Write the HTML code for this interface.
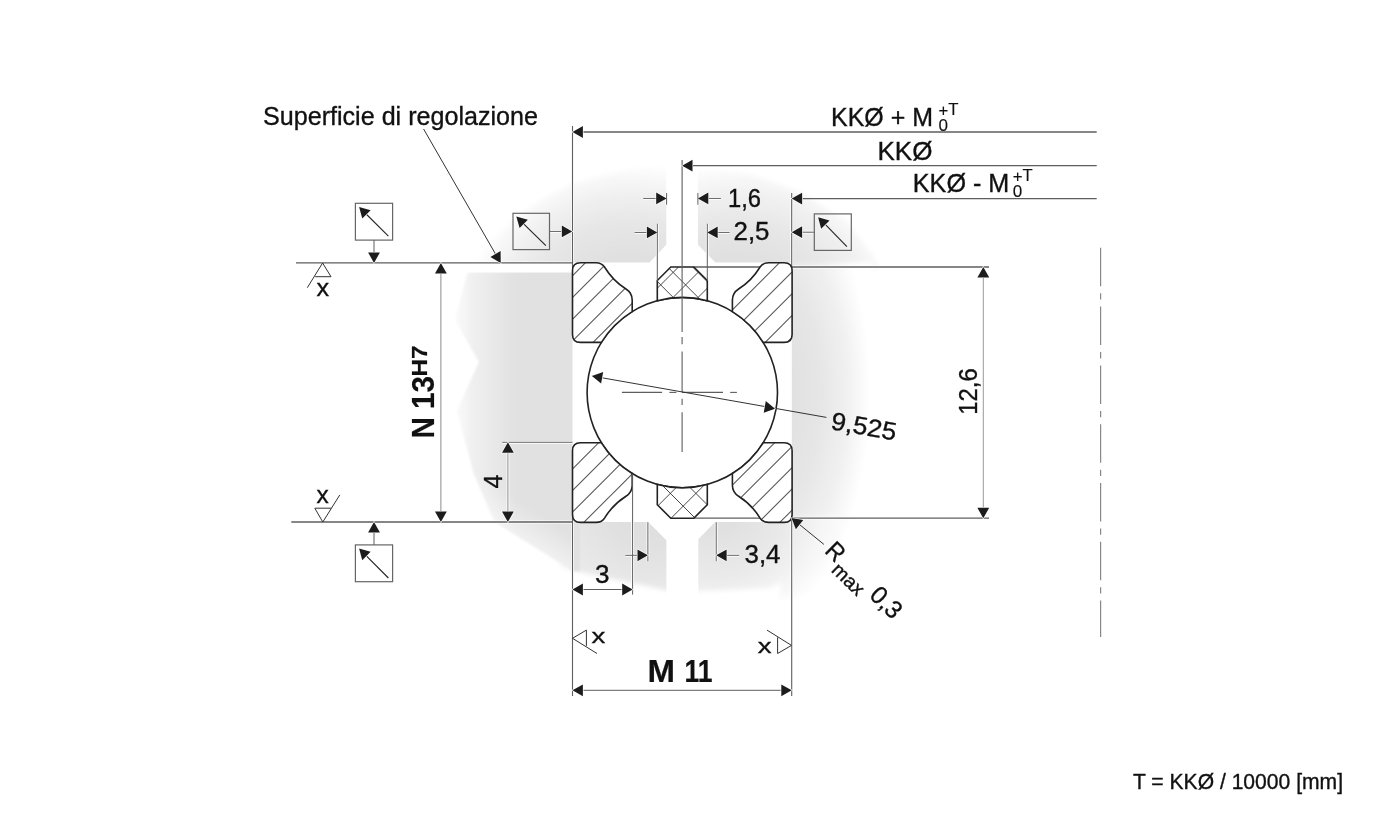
<!DOCTYPE html>
<html><head><meta charset="utf-8"><style>html,body{margin:0;padding:0;background:#fff;width:1390px;height:827px;overflow:hidden}svg{display:block;will-change:transform}</style></head>
<body><svg width="1390" height="827" viewBox="0 0 1390 827">
<rect width="1390" height="827" fill="#fff"/>
<defs>
<linearGradient id="gA" gradientUnits="userSpaceOnUse" x1="452" y1="0" x2="515" y2="0">
<stop offset="0" stop-color="#fdfdfd"/><stop offset="0.35" stop-color="#efefef"/><stop offset="1" stop-color="#e1e1e1"/></linearGradient>
<radialGradient id="gB" gradientUnits="userSpaceOnUse" cx="630" cy="335" r="172">
<stop offset="0" stop-color="#dedede"/><stop offset="0.45" stop-color="#e0e0e0"/><stop offset="0.65" stop-color="#e6e6e6"/><stop offset="0.8" stop-color="#efefef"/><stop offset="0.92" stop-color="#f8f8f8"/><stop offset="1" stop-color="#ffffff"/></radialGradient>
<radialGradient id="gC" gradientUnits="userSpaceOnUse" cx="735" cy="335" r="172">
<stop offset="0" stop-color="#dedede"/><stop offset="0.45" stop-color="#e0e0e0"/><stop offset="0.65" stop-color="#e6e6e6"/><stop offset="0.8" stop-color="#efefef"/><stop offset="0.92" stop-color="#f8f8f8"/><stop offset="1" stop-color="#ffffff"/></radialGradient>
<radialGradient id="gD" gradientUnits="userSpaceOnUse" cx="762" cy="392" r="108" gradientTransform="translate(762,392) scale(1,2.1) translate(-762,-392)">
<stop offset="0" stop-color="#dedede"/><stop offset="0.3" stop-color="#e1e1e1"/><stop offset="0.55" stop-color="#e6e6e6"/><stop offset="0.8" stop-color="#f1f1f1"/><stop offset="1" stop-color="#ffffff"/></radialGradient>
<radialGradient id="gE" gradientUnits="userSpaceOnUse" cx="650" cy="500" r="150">
<stop offset="0" stop-color="#dedede"/><stop offset="0.3" stop-color="#e0e0e0"/><stop offset="0.7" stop-color="#ebebeb"/><stop offset="1" stop-color="#ffffff"/></radialGradient>
<radialGradient id="gF" gradientUnits="userSpaceOnUse" cx="715" cy="500" r="140">
<stop offset="0" stop-color="#dedede"/><stop offset="0.25" stop-color="#e1e1e1"/><stop offset="0.55" stop-color="#eaeaea"/><stop offset="0.8" stop-color="#f6f6f6"/><stop offset="1" stop-color="#ffffff"/></radialGradient>
<filter id="bl" x="-30%" y="-30%" width="160%" height="160%"><feGaussianBlur stdDeviation="2.5"/></filter>
<filter id="bl1" x="-30%" y="-30%" width="160%" height="160%"><feGaussianBlur stdDeviation="1.2"/></filter>
</defs>
<polygon points="560,515 680,515 680,590.3 666.4,590.3 572.5,570.4 560,568" fill="url(#gE)" filter="url(#bl)"/><polygon points="467.5,272.6 454.8,319.8 478.9,362 456.9,410.7 473.8,474 494.5,522 572.5,571 580,571 580,266 468,266" fill="url(#gA)" filter="url(#bl1)"/><polygon points="466,262.6 530,206 572.5,183 620,171 666.3,163.5 680,163.5 680,270 466,270" fill="url(#gB)" filter="url(#bl)"/><polygon points="685,168 697.9,168 750,174 800,192 848,222 878,262.6 878,270 685,270" fill="url(#gC)" filter="url(#bl)"/><polygon points="780,262.6 872,262.6 875,300 875,470 862,540 825,590 780,600" fill="url(#gD)" filter="url(#bl)"/><polygon points="685,515 850,515 820,560 770,588 698.3,591 685,591" fill="url(#gF)" filter="url(#bl)"/>
<linearGradient id="fadeA" gradientUnits="userSpaceOnUse" x1="562" y1="528" x2="530" y2="578"><stop offset="0" stop-color="#fff" stop-opacity="0"/><stop offset="1" stop-color="#fff" stop-opacity="1"/></linearGradient>
<polygon points="440,455 572.5,455 572.5,620 440,620" fill="url(#fadeA)"/>
<path d="M 572.5,262.6 L 791.8,262.6 L 791.8,522 L 572.5,522 Z M 666.3,100 L 697.9,100 L 697.9,244.8 L 715.5,262.6 L 649.5,262.6 L 666.3,244.8 Z M 648.3,522 L 715,522 L 698.3,539.2 L 698.3,640 L 666.4,640 L 666.4,540.2 Z M 400,262.6 L 572.5,262.6 L 572.5,272.6 L 400,272.6 Z" fill="#ffffff"/>
<g stroke="#fff" stroke-width="2.8" stroke-linecap="butt"><line x1="572.5" y1="126" x2="572.5" y2="262"/><line x1="572.5" y1="522" x2="572.5" y2="696"/><line x1="791.7" y1="193" x2="791.7" y2="267"/><line x1="791.7" y1="518" x2="791.7" y2="696"/><line x1="693.8" y1="267" x2="989" y2="267"/><line x1="693.8" y1="518.2" x2="989" y2="518.2"/><line x1="296" y1="262.9" x2="572.5" y2="262.9"/><line x1="291.3" y1="522" x2="572.5" y2="522"/><line x1="502.2" y1="442.3" x2="572.5" y2="442.3"/><line x1="643.2" y1="198.4" x2="666.6" y2="198.4"/><line x1="697.9" y1="198.4" x2="720.9" y2="198.4"/><line x1="634.6" y1="232.4" x2="657.3" y2="232.4"/><line x1="707.3" y1="232.4" x2="729.6" y2="232.4"/><line x1="657.3" y1="223.7" x2="657.3" y2="262"/><line x1="707.3" y1="223.7" x2="707.3" y2="262"/><line x1="666.6" y1="193" x2="666.6" y2="204.7"/><line x1="697.9" y1="193" x2="697.9" y2="204.7"/><line x1="572.5" y1="589.5" x2="632.6" y2="589.5"/><line x1="625.3" y1="555.3" x2="647.9" y2="555.3"/><line x1="716.2" y1="555.3" x2="739.1" y2="555.3"/><line x1="632.6" y1="522" x2="632.6" y2="594.6"/><line x1="647.9" y1="522.2" x2="647.9" y2="561.2"/><line x1="716.2" y1="522.2" x2="716.2" y2="561.2"/><line x1="507.9" y1="442.3" x2="507.9" y2="522"/><line x1="549.5" y1="231.4" x2="572.2" y2="231.4"/><line x1="791.7" y1="232.2" x2="814.3" y2="232.2"/><line x1="682.1" y1="160" x2="682.1" y2="262"/></g>
<defs>
<clipPath id="c_tl"><path d="M 580.50,262.80 L 596.00,262.80 Q 601.50,262.80 604.50,267.00 C 610.00,276.00 618.00,284.00 626.00,289.00 Q 632.20,293.00 632.20,300.00 L 632.20,311.65 A 95.2 95.2 0 0 0 601.41,342.40 L 580.50,342.40 Q 572.50,342.40 572.50,334.40 L 572.50,270.80 Q 572.50,262.80 580.50,262.80 Z"/></clipPath>
<clipPath id="c_tr"><path d="M 784.10,262.80 L 768.60,262.80 Q 763.10,262.80 760.10,267.00 C 754.60,276.00 746.60,284.00 738.60,289.00 Q 732.40,293.00 732.40,300.00 L 732.40,311.65 A 95.2 95.2 0 0 1 763.19,342.40 L 784.10,342.40 Q 792.10,342.40 792.10,334.40 L 792.10,270.80 Q 792.10,262.80 784.10,262.80 Z"/></clipPath>
<clipPath id="c_bl"><path d="M 580.50,522.40 L 596.00,522.40 Q 601.50,522.40 604.50,518.20 C 610.00,509.20 618.00,501.20 626.00,496.20 Q 632.20,492.20 632.20,485.20 L 632.20,473.55 A 95.2 95.2 0 0 1 601.41,442.80 L 580.50,442.80 Q 572.50,442.80 572.50,450.80 L 572.50,514.40 Q 572.50,522.40 580.50,522.40 Z"/></clipPath>
<clipPath id="c_br"><path d="M 784.10,522.40 L 768.60,522.40 Q 763.10,522.40 760.10,518.20 C 754.60,509.20 746.60,501.20 738.60,496.20 Q 732.40,492.20 732.40,485.20 L 732.40,473.55 A 95.2 95.2 0 0 0 763.19,442.80 L 784.10,442.80 Q 792.10,442.80 792.10,450.80 L 792.10,514.40 Q 792.10,522.40 784.10,522.40 Z"/></clipPath>
<clipPath id="c_ct"><path d="M 670.80,267.00 L 693.80,267.00 L 707.30,280.50 L 707.30,300.74 A 95.2 95.2 0 0 0 657.30,300.74 L 657.30,280.50 Z"/></clipPath>
<clipPath id="c_cb"><path d="M 670.80,518.20 L 693.80,518.20 L 707.30,504.70 L 707.30,484.46 A 95.2 95.2 0 0 1 657.30,484.46 L 657.30,504.70 Z"/></clipPath>
</defs>
<line x1="693.80" y1="267.00" x2="989.00" y2="267.00" stroke="#5e5e5e" stroke-width="1.3" />
<line x1="693.80" y1="518.20" x2="989.00" y2="518.20" stroke="#5e5e5e" stroke-width="1.3" />
<line x1="572.50" y1="126.00" x2="572.50" y2="270.00" stroke="#5e5e5e" stroke-width="1.1" />
<line x1="572.50" y1="515.00" x2="572.50" y2="696.00" stroke="#5e5e5e" stroke-width="1.1" />
<line x1="791.70" y1="193.00" x2="791.70" y2="270.00" stroke="#5e5e5e" stroke-width="1.1" />
<line x1="791.70" y1="515.00" x2="791.70" y2="696.00" stroke="#5e5e5e" stroke-width="1.1" />
<circle cx="682.3" cy="392.6" r="95.2" fill="#fff" stroke="#222" stroke-width="1.6"/>
<path d="M 580.50,262.80 L 596.00,262.80 Q 601.50,262.80 604.50,267.00 C 610.00,276.00 618.00,284.00 626.00,289.00 Q 632.20,293.00 632.20,300.00 L 632.20,311.65 A 95.2 95.2 0 0 0 601.41,342.40 L 580.50,342.40 Q 572.50,342.40 572.50,334.40 L 572.50,270.80 Q 572.50,262.80 580.50,262.80 Z" fill="#fff"/>
<g clip-path="url(#c_tl)"><line x1="500.00" y1="173.80" x2="900.00" y2="-226.20" stroke="#555" stroke-width="1.05" /><line x1="500.00" y1="195.60" x2="900.00" y2="-204.40" stroke="#555" stroke-width="1.05" /><line x1="500.00" y1="217.40" x2="900.00" y2="-182.60" stroke="#555" stroke-width="1.05" /><line x1="500.00" y1="239.20" x2="900.00" y2="-160.80" stroke="#555" stroke-width="1.05" /><line x1="500.00" y1="261.00" x2="900.00" y2="-139.00" stroke="#555" stroke-width="1.05" /><line x1="500.00" y1="282.80" x2="900.00" y2="-117.20" stroke="#555" stroke-width="1.05" /><line x1="500.00" y1="304.60" x2="900.00" y2="-95.40" stroke="#555" stroke-width="1.05" /><line x1="500.00" y1="326.40" x2="900.00" y2="-73.60" stroke="#555" stroke-width="1.05" /><line x1="500.00" y1="348.20" x2="900.00" y2="-51.80" stroke="#555" stroke-width="1.05" /><line x1="500.00" y1="370.00" x2="900.00" y2="-30.00" stroke="#555" stroke-width="1.05" /><line x1="500.00" y1="391.80" x2="900.00" y2="-8.20" stroke="#555" stroke-width="1.05" /><line x1="500.00" y1="413.60" x2="900.00" y2="13.60" stroke="#555" stroke-width="1.05" /><line x1="500.00" y1="435.40" x2="900.00" y2="35.40" stroke="#555" stroke-width="1.05" /><line x1="500.00" y1="457.20" x2="900.00" y2="57.20" stroke="#555" stroke-width="1.05" /><line x1="500.00" y1="479.00" x2="900.00" y2="79.00" stroke="#555" stroke-width="1.05" /><line x1="500.00" y1="500.80" x2="900.00" y2="100.80" stroke="#555" stroke-width="1.05" /><line x1="500.00" y1="522.60" x2="900.00" y2="122.60" stroke="#555" stroke-width="1.05" /></g>
<path d="M 580.50,262.80 L 596.00,262.80 Q 601.50,262.80 604.50,267.00 C 610.00,276.00 618.00,284.00 626.00,289.00 Q 632.20,293.00 632.20,300.00 L 632.20,311.65 A 95.2 95.2 0 0 0 601.41,342.40 L 580.50,342.40 Q 572.50,342.40 572.50,334.40 L 572.50,270.80 Q 572.50,262.80 580.50,262.80 Z" fill="none" stroke="#222" stroke-width="1.6"/>
<path d="M 784.10,262.80 L 768.60,262.80 Q 763.10,262.80 760.10,267.00 C 754.60,276.00 746.60,284.00 738.60,289.00 Q 732.40,293.00 732.40,300.00 L 732.40,311.65 A 95.2 95.2 0 0 1 763.19,342.40 L 784.10,342.40 Q 792.10,342.40 792.10,334.40 L 792.10,270.80 Q 792.10,262.80 784.10,262.80 Z" fill="#fff"/>
<g clip-path="url(#c_tr)"><line x1="500.00" y1="389.60" x2="900.00" y2="-10.40" stroke="#555" stroke-width="1.05" /><line x1="500.00" y1="411.40" x2="900.00" y2="11.40" stroke="#555" stroke-width="1.05" /><line x1="500.00" y1="433.20" x2="900.00" y2="33.20" stroke="#555" stroke-width="1.05" /><line x1="500.00" y1="455.00" x2="900.00" y2="55.00" stroke="#555" stroke-width="1.05" /><line x1="500.00" y1="476.80" x2="900.00" y2="76.80" stroke="#555" stroke-width="1.05" /><line x1="500.00" y1="498.60" x2="900.00" y2="98.60" stroke="#555" stroke-width="1.05" /><line x1="500.00" y1="520.40" x2="900.00" y2="120.40" stroke="#555" stroke-width="1.05" /><line x1="500.00" y1="542.20" x2="900.00" y2="142.20" stroke="#555" stroke-width="1.05" /><line x1="500.00" y1="564.00" x2="900.00" y2="164.00" stroke="#555" stroke-width="1.05" /><line x1="500.00" y1="585.80" x2="900.00" y2="185.80" stroke="#555" stroke-width="1.05" /><line x1="500.00" y1="607.60" x2="900.00" y2="207.60" stroke="#555" stroke-width="1.05" /><line x1="500.00" y1="629.40" x2="900.00" y2="229.40" stroke="#555" stroke-width="1.05" /><line x1="500.00" y1="651.20" x2="900.00" y2="251.20" stroke="#555" stroke-width="1.05" /><line x1="500.00" y1="673.00" x2="900.00" y2="273.00" stroke="#555" stroke-width="1.05" /><line x1="500.00" y1="694.80" x2="900.00" y2="294.80" stroke="#555" stroke-width="1.05" /><line x1="500.00" y1="716.60" x2="900.00" y2="316.60" stroke="#555" stroke-width="1.05" /><line x1="500.00" y1="738.40" x2="900.00" y2="338.40" stroke="#555" stroke-width="1.05" /></g>
<path d="M 784.10,262.80 L 768.60,262.80 Q 763.10,262.80 760.10,267.00 C 754.60,276.00 746.60,284.00 738.60,289.00 Q 732.40,293.00 732.40,300.00 L 732.40,311.65 A 95.2 95.2 0 0 1 763.19,342.40 L 784.10,342.40 Q 792.10,342.40 792.10,334.40 L 792.10,270.80 Q 792.10,262.80 784.10,262.80 Z" fill="none" stroke="#222" stroke-width="1.6"/>
<path d="M 580.50,522.40 L 596.00,522.40 Q 601.50,522.40 604.50,518.20 C 610.00,509.20 618.00,501.20 626.00,496.20 Q 632.20,492.20 632.20,485.20 L 632.20,473.55 A 95.2 95.2 0 0 1 601.41,442.80 L 580.50,442.80 Q 572.50,442.80 572.50,450.80 L 572.50,514.40 Q 572.50,522.40 580.50,522.40 Z" fill="#fff"/>
<g clip-path="url(#c_bl)"><line x1="500.00" y1="368.60" x2="900.00" y2="-31.40" stroke="#555" stroke-width="1.05" /><line x1="500.00" y1="390.20" x2="900.00" y2="-9.80" stroke="#555" stroke-width="1.05" /><line x1="500.00" y1="411.80" x2="900.00" y2="11.80" stroke="#555" stroke-width="1.05" /><line x1="500.00" y1="433.40" x2="900.00" y2="33.40" stroke="#555" stroke-width="1.05" /><line x1="500.00" y1="455.00" x2="900.00" y2="55.00" stroke="#555" stroke-width="1.05" /><line x1="500.00" y1="476.60" x2="900.00" y2="76.60" stroke="#555" stroke-width="1.05" /><line x1="500.00" y1="498.20" x2="900.00" y2="98.20" stroke="#555" stroke-width="1.05" /><line x1="500.00" y1="519.80" x2="900.00" y2="119.80" stroke="#555" stroke-width="1.05" /><line x1="500.00" y1="541.40" x2="900.00" y2="141.40" stroke="#555" stroke-width="1.05" /><line x1="500.00" y1="563.00" x2="900.00" y2="163.00" stroke="#555" stroke-width="1.05" /><line x1="500.00" y1="584.60" x2="900.00" y2="184.60" stroke="#555" stroke-width="1.05" /><line x1="500.00" y1="606.20" x2="900.00" y2="206.20" stroke="#555" stroke-width="1.05" /><line x1="500.00" y1="627.80" x2="900.00" y2="227.80" stroke="#555" stroke-width="1.05" /><line x1="500.00" y1="649.40" x2="900.00" y2="249.40" stroke="#555" stroke-width="1.05" /><line x1="500.00" y1="671.00" x2="900.00" y2="271.00" stroke="#555" stroke-width="1.05" /><line x1="500.00" y1="692.60" x2="900.00" y2="292.60" stroke="#555" stroke-width="1.05" /><line x1="500.00" y1="714.20" x2="900.00" y2="314.20" stroke="#555" stroke-width="1.05" /></g>
<path d="M 580.50,522.40 L 596.00,522.40 Q 601.50,522.40 604.50,518.20 C 610.00,509.20 618.00,501.20 626.00,496.20 Q 632.20,492.20 632.20,485.20 L 632.20,473.55 A 95.2 95.2 0 0 1 601.41,442.80 L 580.50,442.80 Q 572.50,442.80 572.50,450.80 L 572.50,514.40 Q 572.50,522.40 580.50,522.40 Z" fill="none" stroke="#222" stroke-width="1.6"/>
<path d="M 784.10,522.40 L 768.60,522.40 Q 763.10,522.40 760.10,518.20 C 754.60,509.20 746.60,501.20 738.60,496.20 Q 732.40,492.20 732.40,485.20 L 732.40,473.55 A 95.2 95.2 0 0 0 763.19,442.80 L 784.10,442.80 Q 792.10,442.80 792.10,450.80 L 792.10,514.40 Q 792.10,522.40 784.10,522.40 Z" fill="#fff"/>
<g clip-path="url(#c_br)"><line x1="500.00" y1="569.00" x2="900.00" y2="169.00" stroke="#555" stroke-width="1.05" /><line x1="500.00" y1="590.20" x2="900.00" y2="190.20" stroke="#555" stroke-width="1.05" /><line x1="500.00" y1="611.40" x2="900.00" y2="211.40" stroke="#555" stroke-width="1.05" /><line x1="500.00" y1="632.60" x2="900.00" y2="232.60" stroke="#555" stroke-width="1.05" /><line x1="500.00" y1="653.80" x2="900.00" y2="253.80" stroke="#555" stroke-width="1.05" /><line x1="500.00" y1="675.00" x2="900.00" y2="275.00" stroke="#555" stroke-width="1.05" /><line x1="500.00" y1="696.20" x2="900.00" y2="296.20" stroke="#555" stroke-width="1.05" /><line x1="500.00" y1="717.40" x2="900.00" y2="317.40" stroke="#555" stroke-width="1.05" /><line x1="500.00" y1="738.60" x2="900.00" y2="338.60" stroke="#555" stroke-width="1.05" /><line x1="500.00" y1="759.80" x2="900.00" y2="359.80" stroke="#555" stroke-width="1.05" /><line x1="500.00" y1="781.00" x2="900.00" y2="381.00" stroke="#555" stroke-width="1.05" /><line x1="500.00" y1="802.20" x2="900.00" y2="402.20" stroke="#555" stroke-width="1.05" /><line x1="500.00" y1="823.40" x2="900.00" y2="423.40" stroke="#555" stroke-width="1.05" /><line x1="500.00" y1="844.60" x2="900.00" y2="444.60" stroke="#555" stroke-width="1.05" /><line x1="500.00" y1="865.80" x2="900.00" y2="465.80" stroke="#555" stroke-width="1.05" /><line x1="500.00" y1="887.00" x2="900.00" y2="487.00" stroke="#555" stroke-width="1.05" /><line x1="500.00" y1="908.20" x2="900.00" y2="508.20" stroke="#555" stroke-width="1.05" /></g>
<path d="M 784.10,522.40 L 768.60,522.40 Q 763.10,522.40 760.10,518.20 C 754.60,509.20 746.60,501.20 738.60,496.20 Q 732.40,492.20 732.40,485.20 L 732.40,473.55 A 95.2 95.2 0 0 0 763.19,442.80 L 784.10,442.80 Q 792.10,442.80 792.10,450.80 L 792.10,514.40 Q 792.10,522.40 784.10,522.40 Z" fill="none" stroke="#222" stroke-width="1.6"/>
<path d="M 670.80,267.00 L 693.80,267.00 L 707.30,280.50 L 707.30,300.74 A 95.2 95.2 0 0 0 657.30,300.74 L 657.30,280.50 Z" fill="#fff"/>
<g clip-path="url(#c_ct)"><line x1="600.00" y1="249.10" x2="760.00" y2="409.10" stroke="#333" stroke-width="0.9" /><line x1="600.00" y1="224.20" x2="760.00" y2="384.20" stroke="#333" stroke-width="0.9" /><line x1="600.00" y1="199.30" x2="760.00" y2="359.30" stroke="#333" stroke-width="0.9" /><line x1="600.00" y1="174.40" x2="760.00" y2="334.40" stroke="#333" stroke-width="0.9" /><line x1="600.00" y1="149.50" x2="760.00" y2="309.50" stroke="#333" stroke-width="0.9" /><line x1="600.00" y1="320.50" x2="760.00" y2="160.50" stroke="#333" stroke-width="0.9" /><line x1="600.00" y1="345.50" x2="760.00" y2="185.50" stroke="#333" stroke-width="0.9" /><line x1="600.00" y1="370.50" x2="760.00" y2="210.50" stroke="#333" stroke-width="0.9" /><line x1="600.00" y1="395.50" x2="760.00" y2="235.50" stroke="#333" stroke-width="0.9" /><line x1="600.00" y1="420.50" x2="760.00" y2="260.50" stroke="#333" stroke-width="0.9" /></g>
<path d="M 670.80,267.00 L 693.80,267.00 L 707.30,280.50 L 707.30,300.74 A 95.2 95.2 0 0 0 657.30,300.74 L 657.30,280.50 Z" fill="none" stroke="#222" stroke-width="1.6"/>
<path d="M 670.80,518.20 L 693.80,518.20 L 707.30,504.70 L 707.30,484.46 A 95.2 95.2 0 0 1 657.30,484.46 L 657.30,504.70 Z" fill="#fff"/>
<g clip-path="url(#c_cb)"><line x1="600.00" y1="474.00" x2="760.00" y2="634.00" stroke="#333" stroke-width="0.9" /><line x1="600.00" y1="448.50" x2="760.00" y2="608.50" stroke="#333" stroke-width="0.9" /><line x1="600.00" y1="423.00" x2="760.00" y2="583.00" stroke="#333" stroke-width="0.9" /><line x1="600.00" y1="397.50" x2="760.00" y2="557.50" stroke="#333" stroke-width="0.9" /><line x1="600.00" y1="372.00" x2="760.00" y2="532.00" stroke="#333" stroke-width="0.9" /><line x1="600.00" y1="512.50" x2="760.00" y2="352.50" stroke="#333" stroke-width="0.9" /><line x1="600.00" y1="538.00" x2="760.00" y2="378.00" stroke="#333" stroke-width="0.9" /><line x1="600.00" y1="563.70" x2="760.00" y2="403.70" stroke="#333" stroke-width="0.9" /><line x1="600.00" y1="589.30" x2="760.00" y2="429.30" stroke="#333" stroke-width="0.9" /><line x1="600.00" y1="615.00" x2="760.00" y2="455.00" stroke="#333" stroke-width="0.9" /></g>
<path d="M 670.80,518.20 L 693.80,518.20 L 707.30,504.70 L 707.30,484.46 A 95.2 95.2 0 0 1 657.30,484.46 L 657.30,504.70 Z" fill="none" stroke="#222" stroke-width="1.6"/>
<line x1="682.10" y1="160.00" x2="682.10" y2="331.90" stroke="#5e5e5e" stroke-width="1.1" />
<line x1="682.10" y1="337.00" x2="682.10" y2="344.20" stroke="#5e5e5e" stroke-width="1.1" />
<line x1="682.10" y1="351.40" x2="682.10" y2="392.30" stroke="#5e5e5e" stroke-width="1.1" />
<line x1="682.10" y1="398.70" x2="682.10" y2="405.10" stroke="#5e5e5e" stroke-width="1.1" />
<line x1="682.10" y1="412.30" x2="682.10" y2="452.10" stroke="#5e5e5e" stroke-width="1.1" />
<line x1="621.90" y1="392.40" x2="662.10" y2="392.40" stroke="#5e5e5e" stroke-width="1.1" />
<line x1="669.40" y1="392.40" x2="676.40" y2="392.40" stroke="#5e5e5e" stroke-width="1.1" />
<line x1="682.10" y1="392.40" x2="723.00" y2="392.40" stroke="#5e5e5e" stroke-width="1.1" />
<line x1="730.20" y1="392.40" x2="736.90" y2="392.40" stroke="#5e5e5e" stroke-width="1.1" />
<line x1="572.50" y1="132.00" x2="1096.70" y2="132.00" stroke="#5e5e5e" stroke-width="1.7" />
<polygon points="572.50,132.00 582.90,126.10 582.90,137.90" fill="#1c1c1c" stroke="#fff" stroke-width="1.2" paint-order="stroke"/>
<line x1="682.10" y1="165.70" x2="1096.70" y2="165.70" stroke="#5e5e5e" stroke-width="1.2" />
<polygon points="682.10,165.70 692.50,159.80 692.50,171.60" fill="#1c1c1c" stroke="#fff" stroke-width="1.2" paint-order="stroke"/>
<line x1="791.70" y1="198.60" x2="1096.70" y2="198.60" stroke="#5e5e5e" stroke-width="1.2" />
<polygon points="791.70,198.60 802.10,192.70 802.10,204.50" fill="#1c1c1c" stroke="#fff" stroke-width="1.2" paint-order="stroke"/>
<line x1="643.20" y1="198.40" x2="666.60" y2="198.40" stroke="#5e5e5e" stroke-width="1" />
<polygon points="666.60,198.40 656.20,204.30 656.20,192.50" fill="#1c1c1c" stroke="#fff" stroke-width="1.2" paint-order="stroke"/>
<line x1="666.60" y1="193.00" x2="666.60" y2="204.70" stroke="#5e5e5e" stroke-width="1" />
<line x1="697.90" y1="198.40" x2="720.90" y2="198.40" stroke="#5e5e5e" stroke-width="1" />
<polygon points="697.90,198.40 708.30,192.50 708.30,204.30" fill="#1c1c1c" stroke="#fff" stroke-width="1.2" paint-order="stroke"/>
<line x1="697.90" y1="193.00" x2="697.90" y2="204.70" stroke="#5e5e5e" stroke-width="1" />
<line x1="634.60" y1="232.40" x2="657.30" y2="232.40" stroke="#5e5e5e" stroke-width="1" />
<polygon points="657.30,232.40 646.90,238.30 646.90,226.50" fill="#1c1c1c" stroke="#fff" stroke-width="1.2" paint-order="stroke"/>
<line x1="657.30" y1="223.70" x2="657.30" y2="281.00" stroke="#5e5e5e" stroke-width="1" />
<line x1="707.30" y1="232.40" x2="729.60" y2="232.40" stroke="#5e5e5e" stroke-width="1" />
<polygon points="707.30,232.40 717.70,226.50 717.70,238.30" fill="#1c1c1c" stroke="#fff" stroke-width="1.2" paint-order="stroke"/>
<line x1="707.30" y1="223.70" x2="707.30" y2="281.00" stroke="#5e5e5e" stroke-width="1" />
<line x1="296.00" y1="262.90" x2="572.50" y2="262.90" stroke="#5e5e5e" stroke-width="1.3" />
<line x1="291.30" y1="522.00" x2="572.50" y2="522.00" stroke="#5e5e5e" stroke-width="1.3" />
<line x1="502.20" y1="442.30" x2="572.50" y2="442.30" stroke="#5e5e5e" stroke-width="1.1" />
<line x1="440.90" y1="263.00" x2="440.90" y2="522.00" stroke="#8a8a8a" stroke-width="1" />
<polygon points="440.90,263.00 446.80,273.40 435.00,273.40" fill="#1c1c1c" stroke="#fff" stroke-width="1.2" paint-order="stroke"/>
<polygon points="440.90,522.00 435.00,511.60 446.80,511.60" fill="#1c1c1c" stroke="#fff" stroke-width="1.2" paint-order="stroke"/>
<line x1="507.90" y1="442.30" x2="507.90" y2="522.00" stroke="#8a8a8a" stroke-width="1" />
<polygon points="507.90,442.30 513.80,452.70 502.00,452.70" fill="#1c1c1c" stroke="#fff" stroke-width="1.2" paint-order="stroke"/>
<polygon points="507.90,522.00 502.00,511.60 513.80,511.60" fill="#1c1c1c" stroke="#fff" stroke-width="1.2" paint-order="stroke"/>
<line x1="983.30" y1="267.00" x2="983.30" y2="518.20" stroke="#999" stroke-width="1" />
<polygon points="983.30,267.00 989.20,277.40 977.40,277.40" fill="#1c1c1c" stroke="#fff" stroke-width="1.2" paint-order="stroke"/>
<polygon points="983.30,518.20 977.40,507.80 989.20,507.80" fill="#1c1c1c" stroke="#fff" stroke-width="1.2" paint-order="stroke"/>
<line x1="632.60" y1="474.00" x2="632.60" y2="594.60" stroke="#5e5e5e" stroke-width="1" />
<line x1="647.90" y1="522.20" x2="647.90" y2="561.20" stroke="#5e5e5e" stroke-width="1" />
<line x1="716.20" y1="522.20" x2="716.20" y2="561.20" stroke="#5e5e5e" stroke-width="1" />
<line x1="572.50" y1="589.50" x2="632.60" y2="589.50" stroke="#5e5e5e" stroke-width="1" />
<polygon points="572.50,589.50 582.90,583.60 582.90,595.40" fill="#1c1c1c" stroke="#fff" stroke-width="1.2" paint-order="stroke"/>
<polygon points="632.60,589.50 622.20,595.40 622.20,583.60" fill="#1c1c1c" stroke="#fff" stroke-width="1.2" paint-order="stroke"/>
<line x1="625.30" y1="555.30" x2="647.90" y2="555.30" stroke="#5e5e5e" stroke-width="1" />
<polygon points="647.90,555.30 637.50,561.20 637.50,549.40" fill="#1c1c1c" stroke="#fff" stroke-width="1.2" paint-order="stroke"/>
<line x1="716.20" y1="555.30" x2="739.10" y2="555.30" stroke="#5e5e5e" stroke-width="1" />
<polygon points="716.20,555.30 726.60,549.40 726.60,561.20" fill="#1c1c1c" stroke="#fff" stroke-width="1.2" paint-order="stroke"/>
<line x1="572.50" y1="690.30" x2="791.70" y2="690.30" stroke="#5e5e5e" stroke-width="1" />
<polygon points="572.50,690.30 582.90,684.40 582.90,696.20" fill="#1c1c1c" stroke="#fff" stroke-width="1.2" paint-order="stroke"/>
<polygon points="791.70,690.30 781.30,696.20 781.30,684.40" fill="#1c1c1c" stroke="#fff" stroke-width="1.2" paint-order="stroke"/>
<line x1="423.60" y1="129.00" x2="500.70" y2="263.00" stroke="#333" stroke-width="1" />
<polygon points="500.70,263.00 490.40,256.93 500.63,251.04" fill="#1c1c1c" stroke="#fff" stroke-width="1.2" paint-order="stroke"/>
<line x1="591.90" y1="376.00" x2="826.40" y2="417.40" stroke="#333" stroke-width="1" />
<polygon points="591.90,376.00 603.17,372.00 601.12,383.62" fill="#1c1c1c" stroke="#fff" stroke-width="1.2" paint-order="stroke"/>
<polygon points="775.00,408.70 763.73,412.70 765.78,401.08" fill="#1c1c1c" stroke="#fff" stroke-width="1.2" paint-order="stroke"/>
<line x1="791.50" y1="518.00" x2="823.90" y2="544.40" stroke="#333" stroke-width="1" />
<polygon points="791.50,518.00 803.29,520.00 795.84,529.14" fill="#1c1c1c" stroke="#fff" stroke-width="1.2" paint-order="stroke"/>
<line x1="1100.60" y1="247.80" x2="1100.60" y2="636.90" stroke="#888" stroke-width="1.2" stroke-dasharray="38.5 7 6.3 7"/>
<rect x="355.40" y="203.30" width="37.20" height="36.80" fill="none" stroke="#666" stroke-width="1.2"/><line x1="388.40" y1="236.10" x2="363.10" y2="211.00" stroke="#222" stroke-width="1.1" /><polygon points="359.10,207.00 370.64,210.14 362.32,218.51" fill="#1c1c1c" stroke="#fff" stroke-width="1.2" paint-order="stroke"/>
<line x1="374.00" y1="240.10" x2="374.00" y2="253.00" stroke="#5e5e5e" stroke-width="1" />
<polygon points="374.00,262.90 368.10,252.50 379.90,252.50" fill="#1c1c1c" stroke="#fff" stroke-width="1.2" paint-order="stroke"/>
<rect x="355.40" y="544.90" width="37.20" height="36.80" fill="none" stroke="#666" stroke-width="1.2"/><line x1="388.40" y1="578.00" x2="363.10" y2="552.60" stroke="#222" stroke-width="1.1" /><polygon points="359.10,548.60 370.62,551.80 362.26,560.13" fill="#1c1c1c" stroke="#fff" stroke-width="1.2" paint-order="stroke"/>
<line x1="374.00" y1="544.90" x2="374.00" y2="532.00" stroke="#5e5e5e" stroke-width="1" />
<polygon points="374.00,522.00 379.90,532.40 368.10,532.40" fill="#1c1c1c" stroke="#fff" stroke-width="1.2" paint-order="stroke"/>
<rect x="513.00" y="213.30" width="36.50" height="36.30" fill="none" stroke="#666" stroke-width="1.2"/><line x1="545.90" y1="245.60" x2="520.30" y2="220.60" stroke="#222" stroke-width="1.1" /><polygon points="516.30,216.60 527.86,219.66 519.60,228.09" fill="#1c1c1c" stroke="#fff" stroke-width="1.2" paint-order="stroke"/>
<line x1="549.50" y1="231.40" x2="562.00" y2="231.40" stroke="#5e5e5e" stroke-width="1" />
<polygon points="572.20,231.40 561.80,237.30 561.80,225.50" fill="#1c1c1c" stroke="#fff" stroke-width="1.2" paint-order="stroke"/>
<rect x="814.30" y="213.90" width="37.00" height="36.50" fill="none" stroke="#666" stroke-width="1.2"/><line x1="846.90" y1="246.60" x2="822.10" y2="221.20" stroke="#222" stroke-width="1.1" /><polygon points="818.10,217.20 829.59,220.50 821.16,228.76" fill="#1c1c1c" stroke="#fff" stroke-width="1.2" paint-order="stroke"/>
<line x1="814.30" y1="232.20" x2="802.00" y2="232.20" stroke="#5e5e5e" stroke-width="1" />
<polygon points="791.70,232.20 802.10,226.30 802.10,238.10" fill="#1c1c1c" stroke="#fff" stroke-width="1.2" paint-order="stroke"/>
<polyline points="307.30,287.70 322.60,263.00 331.00,276.70 315.20,276.70" fill="none" stroke="#333" stroke-width="1"/>
<polyline points="339.80,494.90 322.80,522.00 314.80,508.20 331.20,508.20" fill="none" stroke="#333" stroke-width="1"/>
<polyline points="597.00,653.50 572.50,638.30 586.40,630.10 586.40,645.90" fill="none" stroke="#333" stroke-width="1"/>
<polyline points="767.00,630.10 791.50,645.40 777.60,653.50 777.60,637.40" fill="none" stroke="#333" stroke-width="1"/>
<text x="263" y="125.1" font-size="26" font-weight="400" fill="#111" stroke="#111" stroke-width="0.35" style="font-family:'Liberation Sans',sans-serif" textLength="275" lengthAdjust="spacingAndGlyphs">Superficie di regolazione</text>
<text x="831" y="125.9" font-size="26" font-weight="400" fill="#111" stroke="#111" stroke-width="0.35" style="font-family:'Liberation Sans',sans-serif" textLength="102" lengthAdjust="spacingAndGlyphs">KKØ + M</text>
<text x="938.5" y="116.3" font-size="17" font-weight="400" fill="#111" stroke="#111" stroke-width="0.15" style="font-family:'Liberation Sans',sans-serif" textLength="9.8" lengthAdjust="spacingAndGlyphs">+</text>
<text x="948.3" y="115.2" font-size="17" font-weight="400" fill="#111" stroke="#111" stroke-width="0.15" style="font-family:'Liberation Sans',sans-serif" textLength="10.2" lengthAdjust="spacingAndGlyphs">T</text>
<text x="938.5" y="130.5" font-size="17" font-weight="400" fill="#111" stroke="#111" stroke-width="0.15" style="font-family:'Liberation Sans',sans-serif" textLength="9.5" lengthAdjust="spacingAndGlyphs">0</text>
<text x="877.5" y="159.7" font-size="26" font-weight="400" fill="#111" stroke="#111" stroke-width="0.35" style="font-family:'Liberation Sans',sans-serif" textLength="55" lengthAdjust="spacingAndGlyphs">KKØ</text>
<text x="912.8" y="191.7" font-size="26" font-weight="400" fill="#111" stroke="#111" stroke-width="0.35" style="font-family:'Liberation Sans',sans-serif" textLength="96.5" lengthAdjust="spacingAndGlyphs">KKØ - M</text>
<text x="1012.8" y="182.0" font-size="17" font-weight="400" fill="#111" stroke="#111" stroke-width="0.15" style="font-family:'Liberation Sans',sans-serif" textLength="9.8" lengthAdjust="spacingAndGlyphs">+</text>
<text x="1022.6" y="180.9" font-size="17" font-weight="400" fill="#111" stroke="#111" stroke-width="0.15" style="font-family:'Liberation Sans',sans-serif" textLength="10.2" lengthAdjust="spacingAndGlyphs">T</text>
<text x="1012.8" y="196.5" font-size="17" font-weight="400" fill="#111" stroke="#111" stroke-width="0.15" style="font-family:'Liberation Sans',sans-serif" textLength="9.5" lengthAdjust="spacingAndGlyphs">0</text>
<text x="728" y="207.4" font-size="25" font-weight="400" fill="#111" stroke="#111" stroke-width="0.35" style="font-family:'Liberation Sans',sans-serif" textLength="33" lengthAdjust="spacingAndGlyphs">1,6</text>
<text x="733.5" y="239.8" font-size="25" font-weight="400" fill="#111" stroke="#111" stroke-width="0.35" style="font-family:'Liberation Sans',sans-serif" textLength="36" lengthAdjust="spacingAndGlyphs">2,5</text>
<text x="595" y="583.3" font-size="25" font-weight="400" fill="#111" stroke="#111" stroke-width="0.35" style="font-family:'Liberation Sans',sans-serif" textLength="14.5" lengthAdjust="spacingAndGlyphs">3</text>
<text x="744.5" y="563.3" font-size="25" font-weight="400" fill="#111" stroke="#111" stroke-width="0.35" style="font-family:'Liberation Sans',sans-serif" textLength="36" lengthAdjust="spacingAndGlyphs">3,4</text>
<text x="1133" y="789" font-size="21.5" font-weight="400" fill="#111" stroke="#111" stroke-width="0.35" style="font-family:'Liberation Sans',sans-serif" textLength="210" lengthAdjust="spacingAndGlyphs">T = KKØ / 10000 [mm]</text>
<text x="647.5" y="682.4" font-size="32" font-weight="700" fill="#111" stroke="#111" stroke-width="0.2" style="font-family:'Liberation Sans',sans-serif" textLength="27.5" lengthAdjust="spacingAndGlyphs">M</text>
<text x="684.6" y="682.4" font-size="32" font-weight="700" fill="#111" stroke="#111" stroke-width="0.2" style="font-family:'Liberation Sans',sans-serif" textLength="28" lengthAdjust="spacingAndGlyphs">11</text>
<text x="0" y="0" font-size="32" font-weight="700" fill="#111" stroke="#111" stroke-width="0.2" style="font-family:'Liberation Sans',sans-serif" textLength="62.5" lengthAdjust="spacingAndGlyphs" transform="translate(433.9,438.6) rotate(-90)">N 13</text>
<text x="0" y="0" font-size="22" font-weight="700" fill="#111" stroke="#111" stroke-width="0.2" style="font-family:'Liberation Sans',sans-serif" textLength="31" lengthAdjust="spacingAndGlyphs" transform="translate(427,376.5) rotate(-90)">H7</text>
<text x="0" y="0" font-size="25" font-weight="400" fill="#111" stroke="#111" stroke-width="0.35" style="font-family:'Liberation Sans',sans-serif" textLength="13.9" lengthAdjust="spacingAndGlyphs" transform="translate(501.8,488.4) rotate(-90)">4</text>
<text x="0" y="0" font-size="25" font-weight="400" fill="#111" stroke="#111" stroke-width="0.35" style="font-family:'Liberation Sans',sans-serif" textLength="46.5" lengthAdjust="spacingAndGlyphs" transform="translate(977,414.8) rotate(-90)">12,6</text>
<text x="0" y="0" font-size="25" font-weight="400" fill="#111" stroke="#111" stroke-width="0.35" style="font-family:'Liberation Sans',sans-serif" textLength="66" lengthAdjust="spacingAndGlyphs" transform="translate(830,429) rotate(10.1)">9,525</text>
<g transform="translate(825.3,553.3) rotate(44.3)"><text x="-2" y="0" font-size="25" font-weight="400" fill="#111" stroke="#111" stroke-width="0.35" style="font-family:'Liberation Sans',sans-serif" textLength="16.5" lengthAdjust="spacingAndGlyphs">R</text><text x="16.2" y="9" font-size="19.5" font-weight="400" fill="#111" stroke="#111" stroke-width="0.35" style="font-family:'Liberation Sans',sans-serif" textLength="37" lengthAdjust="spacingAndGlyphs">max</text><text x="61" y="1" font-size="25" font-weight="400" fill="#111" stroke="#111" stroke-width="0.35" style="font-family:'Liberation Sans',sans-serif" textLength="34" lengthAdjust="spacingAndGlyphs">0,3</text></g>
<text x="316.6" y="295.7" font-size="24.5" font-weight="400" fill="#111" stroke="#111" stroke-width="0.35" style="font-family:'Liberation Sans',sans-serif" textLength="12.6" lengthAdjust="spacingAndGlyphs">x</text>
<text x="316.6" y="502.9" font-size="23.5" font-weight="400" fill="#111" stroke="#111" stroke-width="0.35" style="font-family:'Liberation Sans',sans-serif" textLength="12.2" lengthAdjust="spacingAndGlyphs">x</text>
<text x="591.5" y="643.2" font-size="20.5" font-weight="400" fill="#111" stroke="#111" stroke-width="0.35" style="font-family:'Liberation Sans',sans-serif" textLength="13.8" lengthAdjust="spacingAndGlyphs">x</text>
<text x="757.7" y="652.7" font-size="21" font-weight="400" fill="#111" stroke="#111" stroke-width="0.35" style="font-family:'Liberation Sans',sans-serif" textLength="13.8" lengthAdjust="spacingAndGlyphs">x</text>
</svg></body></html>
